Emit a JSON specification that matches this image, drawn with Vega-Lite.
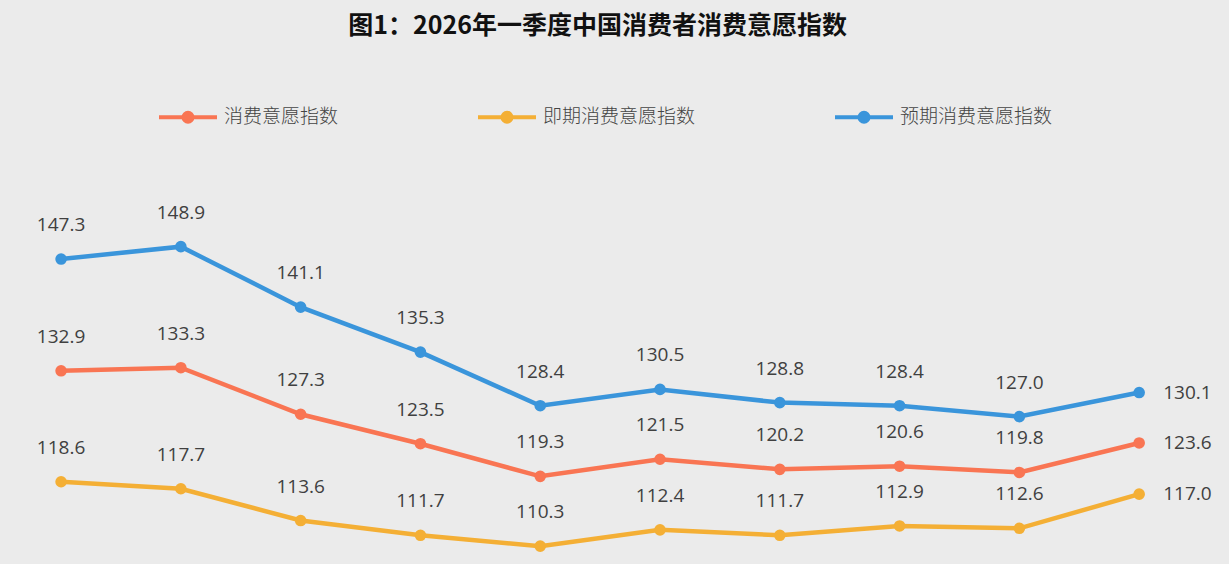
{
  "$schema": "https://vega.github.io/schema/vega-lite/v6.json",
  "autosize": "none",
  "width": 1229,
  "height": 419,
  "padding": {"top": 145, "left": 0, "right": 0, "bottom": 0},
  "background": "#EBEBEB",
  "title": {
    "text": "图1：2026年一季度中国消费者消费意愿指数",
    "font": "Noto Sans CJK SC",
    "fontSize": 25,
    "fontWeight": "bold",
    "color": "#111111",
    "anchor": "middle",
    "frame": "group",
    "dx": -17,
    "offset": 47
  },
  "config": {
    "view": {"stroke": null},
    "font": "Noto Sans CJK SC",
    "legend": {
      "orient": "none",
      "legendX": 157,
      "legendY": -59,
      "direction": "horizontal",
      "title": null,
      "columnPadding": 131,
      "labelFontSize": 19,
      "labelFontWeight": 300,
      "labelColor": "#444444",
      "labelFont": "Noto Sans CJK SC",
      "labelOffset": 5,
      "symbolType": "M -1 0 L 1 0 M -0.155 0 A 0.155 0.155 0 1 1 0.155 0 A 0.155 0.155 0 1 1 -0.155 0 Z",
      "symbolSize": 3364,
      "symbolStrokeWidth": 4
    }
  },
  "data": {
    "values": [
      {"序号": 1, "指数": "消费意愿指数", "值": 132.9},
      {"序号": 2, "指数": "消费意愿指数", "值": 133.3},
      {"序号": 3, "指数": "消费意愿指数", "值": 127.3},
      {"序号": 4, "指数": "消费意愿指数", "值": 123.5},
      {"序号": 5, "指数": "消费意愿指数", "值": 119.3},
      {"序号": 6, "指数": "消费意愿指数", "值": 121.5},
      {"序号": 7, "指数": "消费意愿指数", "值": 120.2},
      {"序号": 8, "指数": "消费意愿指数", "值": 120.6},
      {"序号": 9, "指数": "消费意愿指数", "值": 119.8},
      {"序号": 10, "指数": "消费意愿指数", "值": 123.6},
      {"序号": 1, "指数": "即期消费意愿指数", "值": 118.6},
      {"序号": 2, "指数": "即期消费意愿指数", "值": 117.7},
      {"序号": 3, "指数": "即期消费意愿指数", "值": 113.6},
      {"序号": 4, "指数": "即期消费意愿指数", "值": 111.7},
      {"序号": 5, "指数": "即期消费意愿指数", "值": 110.3},
      {"序号": 6, "指数": "即期消费意愿指数", "值": 112.4},
      {"序号": 7, "指数": "即期消费意愿指数", "值": 111.7},
      {"序号": 8, "指数": "即期消费意愿指数", "值": 112.9},
      {"序号": 9, "指数": "即期消费意愿指数", "值": 112.6},
      {"序号": 10, "指数": "即期消费意愿指数", "值": 117.0},
      {"序号": 1, "指数": "预期消费意愿指数", "值": 147.3},
      {"序号": 2, "指数": "预期消费意愿指数", "值": 148.9},
      {"序号": 3, "指数": "预期消费意愿指数", "值": 141.1},
      {"序号": 4, "指数": "预期消费意愿指数", "值": 135.3},
      {"序号": 5, "指数": "预期消费意愿指数", "值": 128.4},
      {"序号": 6, "指数": "预期消费意愿指数", "值": 130.5},
      {"序号": 7, "指数": "预期消费意愿指数", "值": 128.8},
      {"序号": 8, "指数": "预期消费意愿指数", "值": 128.4},
      {"序号": 9, "指数": "预期消费意愿指数", "值": 127.0},
      {"序号": 10, "指数": "预期消费意愿指数", "值": 130.1}
    ]
  },
  "encoding": {
    "x": {"field": "序号", "type": "quantitative", "axis": null, "scale": {"domain": [0.49, 10.75], "nice": false, "zero": false}},
    "y": {"field": "值", "type": "quantitative", "axis": null, "scale": {"domain": [108, 162], "nice": false, "zero": false}}
  },
  "layer": [
    {
      "mark": {"type": "line", "strokeWidth": 4.5},
      "encoding": {
        "color": {
          "field": "指数",
          "type": "nominal",
          "sort": ["消费意愿指数", "即期消费意愿指数", "预期消费意愿指数"],
          "scale": {"domain": ["消费意愿指数", "即期消费意愿指数", "预期消费意愿指数"], "range": ["#F97553", "#F4AF35", "#3A95DB"]},
          "legend": {
            "encode": {
              "symbols": {
                "update": {
                  "fill": {"scale": "color", "field": "value"},
                  "stroke": {"scale": "color", "field": "value"},
                  "strokeWidth": {"value": 4}
                }
              }
            }
          }
        }
      }
    },
    {
      "mark": {"type": "point", "filled": true, "size": 135, "opacity": 1},
      "encoding": {
        "color": {"field": "指数", "type": "nominal", "legend": null}
      }
    },
    {
      "transform": [{"filter": "datum['序号'] < 10"}],
      "mark": {"type": "text", "dy": -34, "fontSize": 19, "color": "#404040", "font": "Open Sans", "baseline": "middle", "align": "center"},
      "encoding": {
        "text": {"field": "值", "type": "quantitative", "format": ".1f"}
      }
    },
    {
      "transform": [{"filter": "datum['序号'] == 10"}],
      "mark": {"type": "text", "dx": 24, "fontSize": 19, "color": "#404040", "font": "Open Sans", "baseline": "middle", "align": "left"},
      "encoding": {
        "text": {"field": "值", "type": "quantitative", "format": ".1f"}
      }
    }
  ]
}
